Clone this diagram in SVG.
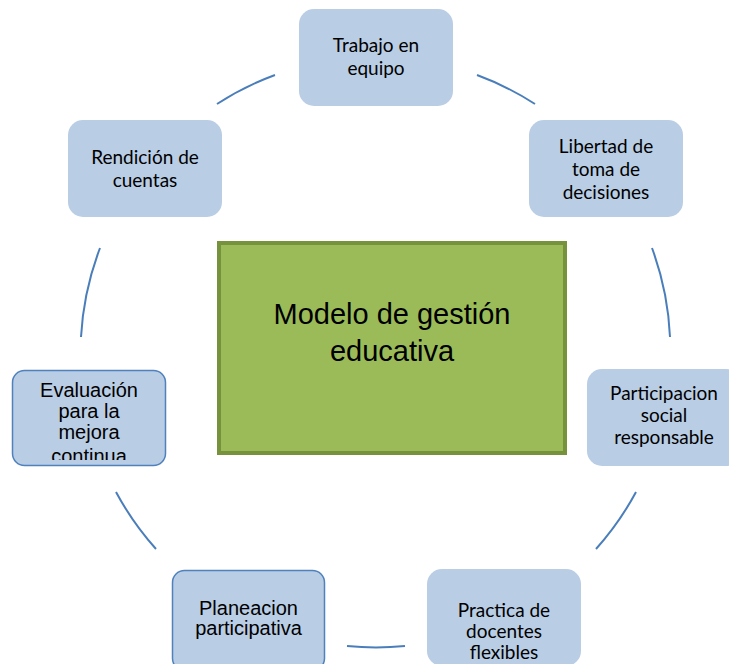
<svg xmlns="http://www.w3.org/2000/svg" width="729" height="664" viewBox="0 0 729 664">
<style>
.box{fill:#b9cde5;}
.boxb{fill:#b9cde5;stroke:#4f81bd;stroke-width:1.5;}
.t{font-family:Lato,"Open Sans",sans-serif;font-size:19px;fill:#000;text-anchor:middle;}
.a{font-family:"Liberation Sans",Arial,sans-serif;font-size:20px;fill:#000;text-anchor:middle;}
.c{font-family:"Liberation Sans",Arial,sans-serif;font-size:29px;fill:#000;text-anchor:middle;}
.arc{fill:none;stroke:#4a7ebb;stroke-width:2;}
</style>
<defs>
<clipPath id="clipEval"><rect x="12" y="370" width="154" height="90"/></clipPath>
</defs>
<rect width="729" height="664" fill="#fff"/>
<g id="connectors">
<path class="arc" d="M217,104 A295,295 0 0 1 275,75"/>
<path class="arc" d="M477,75 A295,295 0 0 1 535,104"/>
<path class="arc" d="M652,248 A295,295 0 0 1 670,337"/>
<path class="arc" d="M636,492 A295,295 0 0 1 596,549"/>
<path class="arc" d="M405,646 A295,295 0 0 1 347,646"/>
<path class="arc" d="M156,549 A295,295 0 0 1 116,492"/>
<path class="arc" d="M81,337 A295,295 0 0 1 100,248"/>
</g>
<g id="center">
<rect x="219" y="243" width="346" height="210" fill="#9bbb59" stroke="#76923c" stroke-width="4"/>
<text class="c" x="392" y="324">Modelo de gestión</text>
<text class="c" x="392" y="361">educativa</text>
</g>
<g id="trabajo">
<rect class="box" x="299" y="9" width="154" height="97" rx="15"/>
<text class="t" x="376" y="52">Trabajo en</text>
<text class="t" x="376" y="75">equipo</text>
</g>
<g id="libertad">
<rect class="box" x="529" y="120" width="154" height="97" rx="15"/>
<text class="t" x="606" y="153">Libertad de</text>
<text class="t" x="606" y="176">toma de</text>
<text class="t" x="606" y="199">decisiones</text>
</g>
<g id="participacion">
<rect class="box" x="587" y="369" width="154" height="97" rx="15"/>
<text class="t" x="664" y="400">Participacion</text>
<text class="t" x="664" y="422">social</text>
<text class="t" x="664" y="444">responsable</text>
</g>
<g id="practica">
<rect class="box" x="427" y="569" width="154" height="97" rx="15"/>
<text class="t" x="504" y="617">Practica de</text>
<text class="t" x="504" y="638">docentes</text>
<text class="t" x="504" y="659">flexibles</text>
</g>
<g id="planeacion">
<rect class="boxb" x="172.5" y="570.5" width="152" height="100" rx="12"/>
<text class="a" x="248.5" y="615">Planeacion</text>
<text class="a" x="248.5" y="635">participativa</text>
</g>
<g id="evaluacion">
<rect class="boxb" x="12.5" y="370.5" width="153" height="95" rx="12"/>
<g clip-path="url(#clipEval)">
<text class="a" x="89" y="397">Evaluación</text>
<text class="a" x="89" y="418">para la</text>
<text class="a" x="89" y="439">mejora</text>
<text class="a" x="89" y="463">continua</text>
</g>
</g>
<g id="rendicion">
<rect class="box" x="68" y="120" width="154" height="97" rx="15"/>
<text class="t" x="145" y="164">Rendición de</text>
<text class="t" x="145" y="187">cuentas</text>
</g>
</svg>
